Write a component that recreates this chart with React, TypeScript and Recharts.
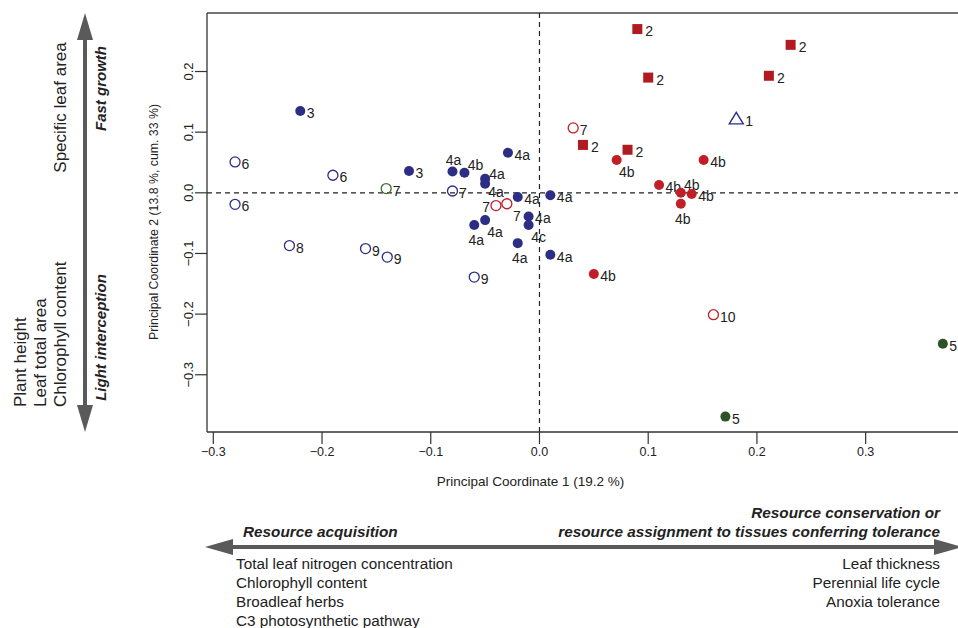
import { ScatterChart, Scatter, XAxis, YAxis, ReferenceLine } from "recharts";

const FONT = "'Liberation Sans', Arial, Helvetica, sans-serif";

const X_TICKS = [-0.3, -0.2, -0.1, 0, 0.1, 0.2, 0.3];
const Y_TICKS = [-0.3, -0.2, -0.1, 0, 0.1, 0.2];

// group 2: filled red squares
const squaresX = [0.09, 0.231, 0.1, 0.211, 0.04, 0.081];
const squaresY = [0.27, 0.244, 0.19, 0.193, 0.079, 0.071];
const squaresLab = ["2", "2", "2", "2", "2", "2"];

// group 1: open triangle
const triX = [0.181];
const triY = [0.122];
const triLab = ["1"];

// red filled circles (4b)
const redFillX = [0.071, 0.151, 0.11, 0.13, 0.14, 0.13, 0.05];
const redFillY = [0.054, 0.054, 0.013, 0.0, -0.002, -0.018, -0.134];
const redFillLab = ["4b", "4b", "4b", "4b", "4b", "4b", "4b"];
const redFillSide = ["rb", "r", "r", "ra", "r", "b", "r"];

// red open circles
const redOpenX = [0.031, -0.04, -0.03, 0.16];
const redOpenY = [0.107, -0.021, -0.018, -0.201];
const redOpenLab = ["7", "7", "7", "10"];
const redOpenSide = ["r", "l", "rb", "r"];

// navy filled circles
const navyFillX = [-0.22, -0.12, -0.029, -0.08, -0.069, -0.05, -0.05, -0.02, 0.01, -0.01, -0.01, -0.05, -0.06, -0.02, 0.01];
const navyFillY = [0.135, 0.036, 0.066, 0.035, 0.033, 0.023, 0.015, -0.007, -0.004, -0.039, -0.053, -0.045, -0.053, -0.083, -0.102];
const navyFillLab = ["3", "3", "4a", "4a", "4b", "4a", "4a", "4a", "4a", "4a", "4c", "4a", "4a", "4a", "4a"];
const navyFillSide = ["r", "r", "r", "a", "ra", "ru", "rl", "r", "r", "r", "rb", "rb", "b", "b", "r"];

// navy open circles
const navyOpenX = [-0.28, -0.19, -0.28, -0.23, -0.16, -0.14, -0.06, -0.08];
const navyOpenY = [0.051, 0.029, -0.019, -0.087, -0.092, -0.106, -0.139, 0.003];
const navyOpenLab = ["6", "6", "6", "8", "9", "9", "9", "7"];

// green filled circles (5)
const greenFillX = [0.371, 0.171];
const greenFillY = [-0.249, -0.369];
const greenFillLab = ["5", "5"];

// green open circle
const greenOpenX = [-0.141];
const greenOpenY = [0.007];
const greenOpenLab = ["7"];

const XMIN = -0.3058;
const XMAX = 0.3923;
const YMIN = -0.3944;
const YMAX = 0.2965;

const rows = (xs: number[], ys: number[], labs: string[], sides?: string[]) =>
  xs.map((x, i) => ({ x, y: ys[i], label: labs[i], side: sides ? sides[i] : "r" }));

const fmt = (v: number) => (v === 0 ? "0.0" : v.toFixed(1).replace("-", "\u2212"));

const labelPos = (side: string, cx: number, cy: number, gap: number) => {
  switch (side) {
    case "rb":
      return { x: cx + 10, y: cy + 12, anchor: "middle" };
    case "rl":
      return { x: cx + 11, y: cy + 8, anchor: "middle" };
    case "ru":
      return { x: cx + 12, y: cy - 5, anchor: "middle" };
    case "b":
      return { x: cx + 2, y: cy + 15, anchor: "middle" };
    case "ra":
      return { x: cx + 11, y: cy - 8, anchor: "middle" };
    case "a":
      return { x: cx + 1, y: cy - 12, anchor: "middle" };
    case "l":
      return { x: cx - 6, y: cy + 1, anchor: "end" };
    default:
      return { x: cx + gap, y: cy + 2, anchor: "start" };
  }
};

const makeShape = (kind: string, color: string) => (props: any) => {
  const { cx, cy, payload } = props;
  if (cx == null || cy == null) return <g />;
  let mark;
  let gap = 6.5;
  if (kind === "square") {
    mark = <rect x={cx - 5} y={cy - 5} width={10} height={10} fill={color} />;
    gap = 8;
  } else if (kind === "tri") {
    mark = (
      <polygon
        points={`${cx},${cy - 6.5} ${cx - 7},${cy + 5} ${cx + 7},${cy + 5}`}
        fill="none"
        stroke={color}
        strokeWidth={1.4}
      />
    );
    gap = 9;
  } else if (kind === "open") {
    mark = <circle cx={cx} cy={cy} r={5} fill="none" stroke={color} strokeWidth={1.3} />;
  } else {
    mark = <circle cx={cx} cy={cy} r={5} fill={color} />;
  }
  const p = labelPos(payload.side, cx, cy, gap);
  return (
    <g>
      {mark}
      <text
        x={p.x}
        y={p.y}
        textAnchor={p.anchor as any}
        dominantBaseline="central"
        fontSize={14}
        fontFamily={FONT}
        fill="#222"
      >
        {payload.label}
      </text>
    </g>
  );
};

const YTick = (props: any) => {
  const { x, y, payload } = props;
  return (
    <text
      x={x}
      y={y}
      transform={`rotate(-90 ${x} ${y})`}
      textAnchor="middle"
      fontSize={13}
      fontFamily={FONT}
      fill="#222"
    >
      {fmt(payload.value)}
    </text>
  );
};

const XTick = (props: any) => {
  const { x, y, payload } = props;
  return (
    <text x={x} y={y} dy="0.71em" textAnchor="middle" fontSize={12.5} fontFamily={FONT} fill="#222">
      {fmt(payload.value)}
    </text>
  );
};

const GRAY = "#5a5a5a";

const Annotations = () => (
  <svg
    width={958}
    height={628}
    style={{ position: "absolute", left: 0, top: 0, pointerEvents: "none" }}
    fontFamily={FONT}
  >
    {/* vertical double arrow */}
    <line x1={85} y1={36} x2={85} y2={410} stroke={GRAY} strokeWidth={4} />
    <polygon points="85,13 77,40 93,40" fill={GRAY} />
    <polygon points="85,432 77,405 93,405" fill={GRAY} />
    {/* horizontal double arrow */}
    <line x1={228} y1={547} x2={938} y2={547} stroke={GRAY} strokeWidth={4} />
    <polygon points="205,547 233,539 233,555" fill={GRAY} />
    <polygon points="962,547 934,539 934,555" fill={GRAY} />

    <g fill="#222" fontSize={17} dominantBaseline="central">
      <text transform="translate(60,107.5) rotate(-90)" textAnchor="middle">Specific leaf area</text>
      <text transform="translate(20,407) rotate(-90)" textAnchor="start">Plant height</text>
      <text transform="translate(40,407) rotate(-90)" textAnchor="start">Leaf total area</text>
      <text transform="translate(60,407) rotate(-90)" textAnchor="start">Chlorophyll content</text>
    </g>
    <g fill="#222" fontSize={15} fontWeight="bold" fontStyle="italic" dominantBaseline="central">
      <text transform="translate(100,88.5) rotate(-90)" textAnchor="middle">Fast growth</text>
      <text transform="translate(100,337.5) rotate(-90)" textAnchor="middle">Light interception</text>
    </g>

    <text
      transform="translate(153,222) rotate(-90)"
      textAnchor="middle"
      dominantBaseline="central"
      fontSize={13.5}
      textLength={236}
      lengthAdjust="spacingAndGlyphs"
      fill="#222"
    >
      Principal Coordinate 2 (13.8 %, cum. 33 %)
    </text>
    <text x={530.5} y={481} textAnchor="middle" dominantBaseline="central" fontSize={13.5} fill="#222">
      Principal Coordinate 1 (19.2 %)
    </text>

    <g fill="#222" fontSize={15.3} fontWeight="bold" fontStyle="italic" dominantBaseline="central">
      <text x={243} y={531}>Resource acquisition</text>
      <text x={940} y={512} textAnchor="end">Resource conservation or</text>
      <text x={940} y={531} textAnchor="end">resource assignment to tissues conferring tolerance</text>
    </g>
    <g fill="#222" fontSize={15.3} dominantBaseline="central">
      <text x={236} y={563}>Total leaf nitrogen concentration</text>
      <text x={236} y={582}>Chlorophyll content</text>
      <text x={236} y={601}>Broadleaf herbs</text>
      <text x={236} y={620}>C3 photosynthetic pathway</text>
      <text x={940} y={563} textAnchor="end">Leaf thickness</text>
      <text x={940} y={582} textAnchor="end">Perennial life cycle</text>
      <text x={940} y={601} textAnchor="end">Anoxia tolerance</text>
    </g>
  </svg>
);

export default function App() {
  const NAVY = "#2c2d84";
  const RED = "#c01f28";
  const SQ_RED = "#b01b22";
  const GREEN = "#2e5226";

  return (
    <div
      style={{
        position: "absolute",
        left: 0,
        top: 0,
        width: 958,
        height: 628,
        overflow: "hidden",
        background: "#fff",
        fontFamily: FONT,
      }}
    >
      <ScatterChart width={966} height={628} margin={{ top: 13, right: 0, bottom: 0, left: 0 }}>
        <XAxis
          type="number"
          dataKey="x"
          domain={[XMIN, XMAX]}
          allowDataOverflow
          ticks={X_TICKS}
          interval={0}
          height={196}
          tickSize={12}
          tickMargin={3}
          tick={<XTick />}
          axisLine={{ stroke: "#333", strokeWidth: 1.3 }}
          tickLine={{ stroke: "#333", strokeWidth: 1.2 }}
        />
        <YAxis
          type="number"
          dataKey="y"
          domain={[YMIN, YMAX]}
          allowDataOverflow
          ticks={Y_TICKS}
          interval={0}
          width={207}
          tickSize={12}
          tickMargin={2}
          tick={<YTick />}
          axisLine={{ stroke: "#333", strokeWidth: 1.3 }}
          tickLine={{ stroke: "#333", strokeWidth: 1.2 }}
        />
        <ReferenceLine y={YMAX} stroke="#444" strokeWidth={1.5} />
        <ReferenceLine x={0} stroke="#222" strokeWidth={1.2} strokeDasharray="5 4" />
        <ReferenceLine y={0} stroke="#222" strokeWidth={1.2} strokeDasharray="5 4" />

        <Scatter data={rows(navyOpenX, navyOpenY, navyOpenLab)} shape={makeShape("open", NAVY)} isAnimationActive={false} />
        <Scatter data={rows(greenOpenX, greenOpenY, greenOpenLab)} shape={makeShape("open", "#3f6b34")} isAnimationActive={false} />
        <Scatter data={rows(navyFillX, navyFillY, navyFillLab, navyFillSide)} shape={makeShape("fill", NAVY)} isAnimationActive={false} />
        <Scatter data={rows(redOpenX, redOpenY, redOpenLab, redOpenSide)} shape={makeShape("open", RED)} isAnimationActive={false} />
        <Scatter data={rows(redFillX, redFillY, redFillLab, redFillSide)} shape={makeShape("fill", RED)} isAnimationActive={false} />
        <Scatter data={rows(squaresX, squaresY, squaresLab)} shape={makeShape("square", SQ_RED)} isAnimationActive={false} />
        <Scatter data={rows(triX, triY, triLab)} shape={makeShape("tri", NAVY)} isAnimationActive={false} />
        <Scatter data={rows(greenFillX, greenFillY, greenFillLab)} shape={makeShape("fill", GREEN)} isAnimationActive={false} />
      </ScatterChart>
      <Annotations />
    </div>
  );
}
